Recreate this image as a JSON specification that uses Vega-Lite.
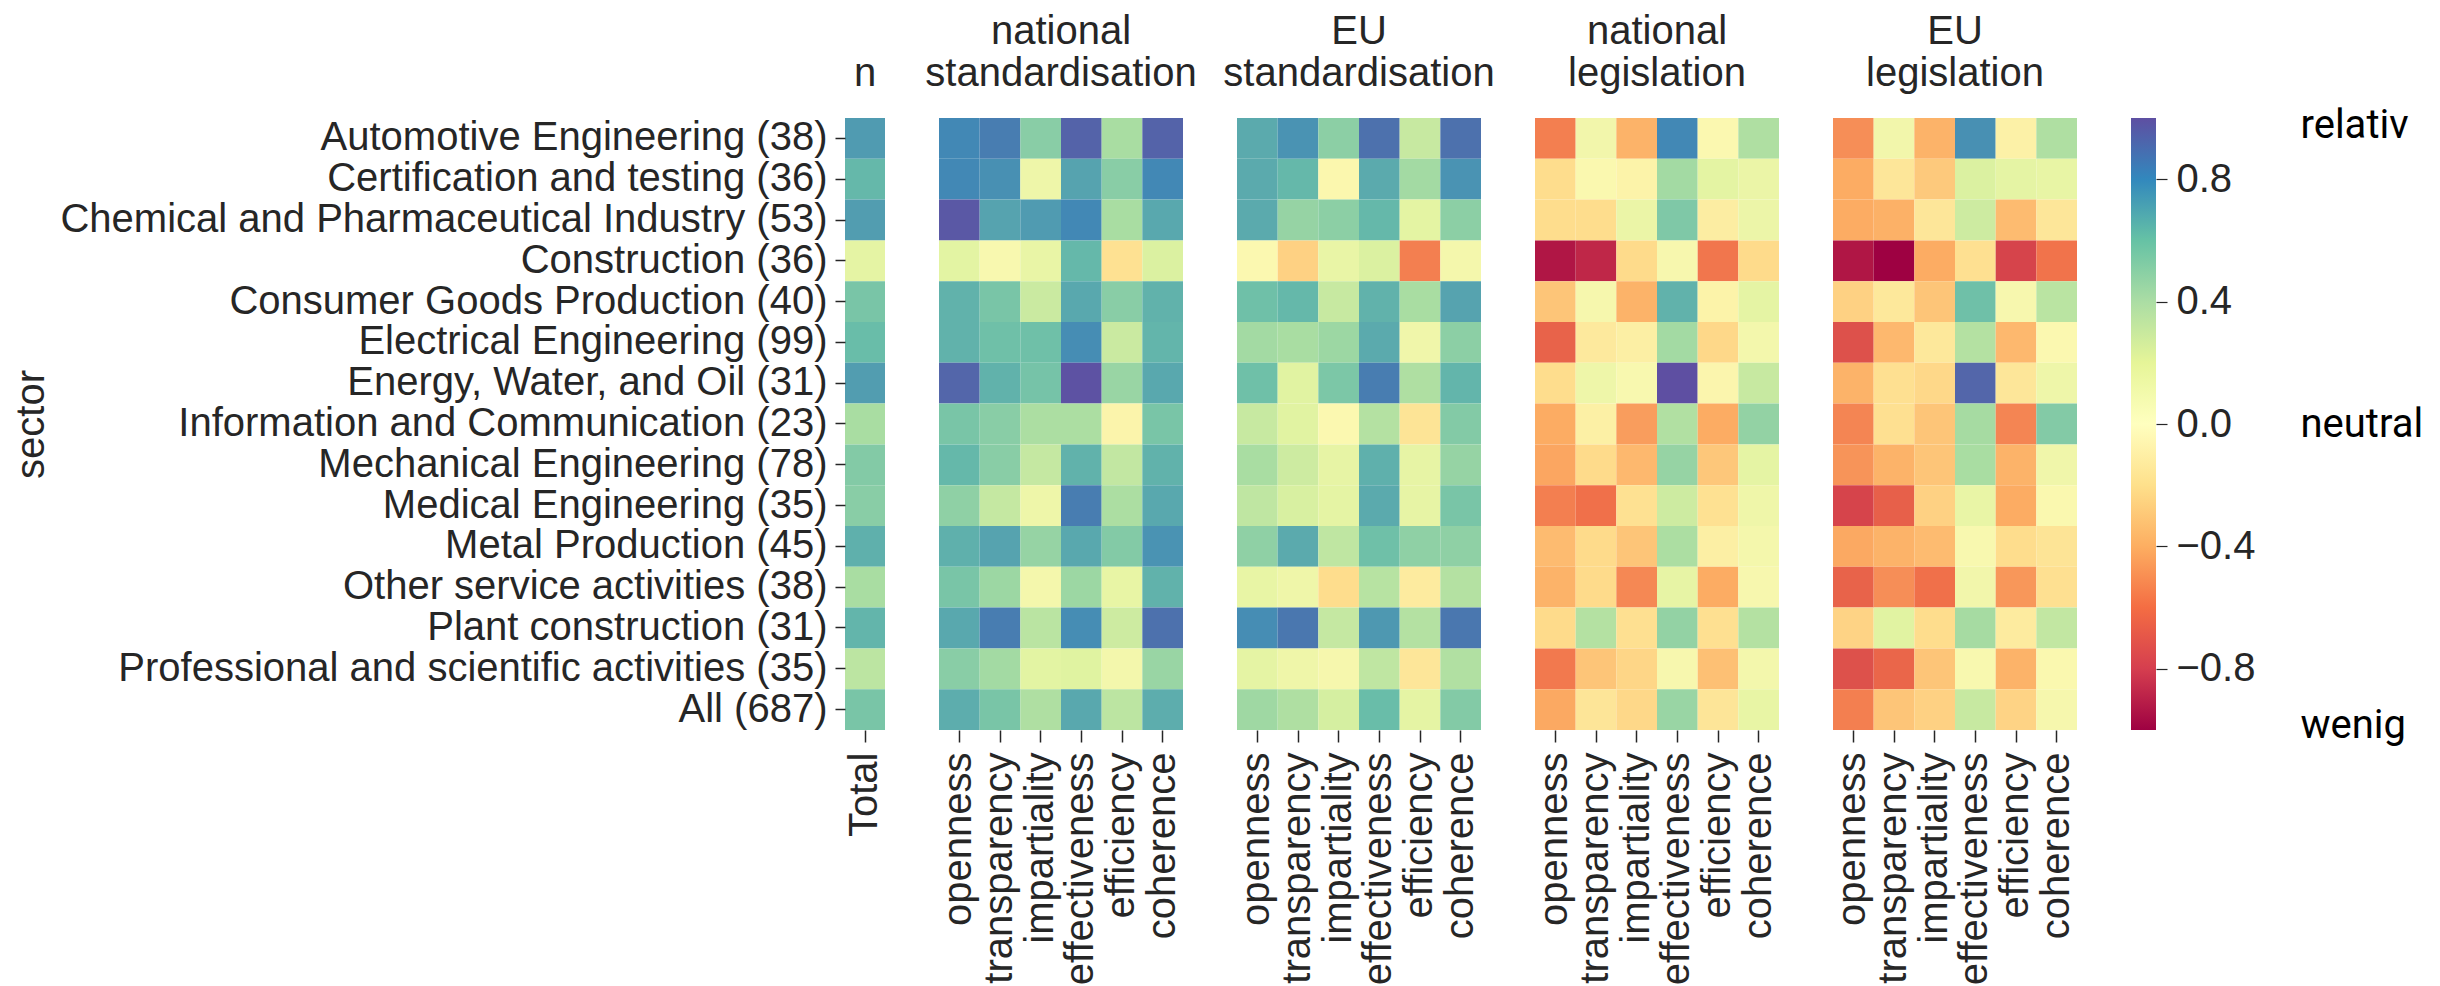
{
"$schema":"https://vega.github.io/schema/vega-lite/v6.json",
"background":"white",
"padding":{"left":11,"top":12,"right":5,"bottom":0},
"bounds":"flush",
"spacing":54,
"config":{"font":"Liberation Sans","view":{"stroke":null},
"axis":{"labelFont":"Liberation Sans","labelFontSize":40,"labelLimit":1000,"labelColor":"#262626","tickColor":"#262626","tickWidth":1.5,"domain":false,"grid":false,"titleFont":"Liberation Sans","titleFontSize":40,"titleFontWeight":"normal","titleColor":"#262626"},
"title":{"font":"Liberation Sans","fontSize":40,"fontWeight":"normal","color":"#262626","offset":24,"lineHeight":42,"anchor":"middle"}},
"data":{"values":[
{"sector":"Automotive Engineering (38)","group":"n","crit":"Total","value":0.73},
{"sector":"Certification and testing (36)","group":"n","crit":"Total","value":0.62},
{"sector":"Chemical and Pharmaceutical Industry (53)","group":"n","crit":"Total","value":0.72},
{"sector":"Construction (36)","group":"n","crit":"Total","value":0.16},
{"sector":"Consumer Goods Production (40)","group":"n","crit":"Total","value":0.55},
{"sector":"Electrical Engineering (99)","group":"n","crit":"Total","value":0.6},
{"sector":"Energy, Water, and Oil (31)","group":"n","crit":"Total","value":0.72},
{"sector":"Information and Communication (23)","group":"n","crit":"Total","value":0.4},
{"sector":"Mechanical Engineering (78)","group":"n","crit":"Total","value":0.52},
{"sector":"Medical Engineering (35)","group":"n","crit":"Total","value":0.5},
{"sector":"Metal Production (45)","group":"n","crit":"Total","value":0.65},
{"sector":"Other service activities (38)","group":"n","crit":"Total","value":0.4},
{"sector":"Plant construction (31)","group":"n","crit":"Total","value":0.63},
{"sector":"Professional and scientific activities (35)","group":"n","crit":"Total","value":0.33},
{"sector":"All (687)","group":"n","crit":"Total","value":0.55},

{"sector":"Automotive Engineering (38)","group":"ns","crit":"openness","value":0.8},
{"sector":"Automotive Engineering (38)","group":"ns","crit":"transparency","value":0.84},
{"sector":"Automotive Engineering (38)","group":"ns","crit":"impartiality","value":0.5},
{"sector":"Automotive Engineering (38)","group":"ns","crit":"effectiveness","value":0.93},
{"sector":"Automotive Engineering (38)","group":"ns","crit":"efficiency","value":0.4},
{"sector":"Automotive Engineering (38)","group":"ns","crit":"coherence","value":0.93},
{"sector":"Certification and testing (36)","group":"ns","crit":"openness","value":0.8},
{"sector":"Certification and testing (36)","group":"ns","crit":"transparency","value":0.77},
{"sector":"Certification and testing (36)","group":"ns","crit":"impartiality","value":0.1},
{"sector":"Certification and testing (36)","group":"ns","crit":"effectiveness","value":0.7},
{"sector":"Certification and testing (36)","group":"ns","crit":"efficiency","value":0.5},
{"sector":"Certification and testing (36)","group":"ns","crit":"coherence","value":0.8},
{"sector":"Chemical and Pharmaceutical Industry (53)","group":"ns","crit":"openness","value":0.97},
{"sector":"Chemical and Pharmaceutical Industry (53)","group":"ns","crit":"transparency","value":0.7},
{"sector":"Chemical and Pharmaceutical Industry (53)","group":"ns","crit":"impartiality","value":0.73},
{"sector":"Chemical and Pharmaceutical Industry (53)","group":"ns","crit":"effectiveness","value":0.8},
{"sector":"Chemical and Pharmaceutical Industry (53)","group":"ns","crit":"efficiency","value":0.4},
{"sector":"Chemical and Pharmaceutical Industry (53)","group":"ns","crit":"coherence","value":0.68},
{"sector":"Construction (36)","group":"ns","crit":"openness","value":0.18},
{"sector":"Construction (36)","group":"ns","crit":"transparency","value":0.02},
{"sector":"Construction (36)","group":"ns","crit":"impartiality","value":0.13},
{"sector":"Construction (36)","group":"ns","crit":"effectiveness","value":0.62},
{"sector":"Construction (36)","group":"ns","crit":"efficiency","value":-0.17},
{"sector":"Construction (36)","group":"ns","crit":"coherence","value":0.22},
{"sector":"Consumer Goods Production (40)","group":"ns","crit":"openness","value":0.64},
{"sector":"Consumer Goods Production (40)","group":"ns","crit":"transparency","value":0.55},
{"sector":"Consumer Goods Production (40)","group":"ns","crit":"impartiality","value":0.28},
{"sector":"Consumer Goods Production (40)","group":"ns","crit":"effectiveness","value":0.68},
{"sector":"Consumer Goods Production (40)","group":"ns","crit":"efficiency","value":0.5},
{"sector":"Consumer Goods Production (40)","group":"ns","crit":"coherence","value":0.64},
{"sector":"Electrical Engineering (99)","group":"ns","crit":"openness","value":0.64},
{"sector":"Electrical Engineering (99)","group":"ns","crit":"transparency","value":0.58},
{"sector":"Electrical Engineering (99)","group":"ns","crit":"impartiality","value":0.58},
{"sector":"Electrical Engineering (99)","group":"ns","crit":"effectiveness","value":0.78},
{"sector":"Electrical Engineering (99)","group":"ns","crit":"efficiency","value":0.28},
{"sector":"Electrical Engineering (99)","group":"ns","crit":"coherence","value":0.63},
{"sector":"Energy, Water, and Oil (31)","group":"ns","crit":"openness","value":0.92},
{"sector":"Energy, Water, and Oil (31)","group":"ns","crit":"transparency","value":0.64},
{"sector":"Energy, Water, and Oil (31)","group":"ns","crit":"impartiality","value":0.56},
{"sector":"Energy, Water, and Oil (31)","group":"ns","crit":"effectiveness","value":0.99},
{"sector":"Energy, Water, and Oil (31)","group":"ns","crit":"efficiency","value":0.45},
{"sector":"Energy, Water, and Oil (31)","group":"ns","crit":"coherence","value":0.68},
{"sector":"Information and Communication (23)","group":"ns","crit":"openness","value":0.55},
{"sector":"Information and Communication (23)","group":"ns","crit":"transparency","value":0.5},
{"sector":"Information and Communication (23)","group":"ns","crit":"impartiality","value":0.39},
{"sector":"Information and Communication (23)","group":"ns","crit":"effectiveness","value":0.39},
{"sector":"Information and Communication (23)","group":"ns","crit":"efficiency","value":-0.03},
{"sector":"Information and Communication (23)","group":"ns","crit":"coherence","value":0.55},
{"sector":"Mechanical Engineering (78)","group":"ns","crit":"openness","value":0.62},
{"sector":"Mechanical Engineering (78)","group":"ns","crit":"transparency","value":0.5},
{"sector":"Mechanical Engineering (78)","group":"ns","crit":"impartiality","value":0.3},
{"sector":"Mechanical Engineering (78)","group":"ns","crit":"effectiveness","value":0.64},
{"sector":"Mechanical Engineering (78)","group":"ns","crit":"efficiency","value":0.31},
{"sector":"Mechanical Engineering (78)","group":"ns","crit":"coherence","value":0.64},
{"sector":"Medical Engineering (35)","group":"ns","crit":"openness","value":0.48},
{"sector":"Medical Engineering (35)","group":"ns","crit":"transparency","value":0.3},
{"sector":"Medical Engineering (35)","group":"ns","crit":"impartiality","value":0.1},
{"sector":"Medical Engineering (35)","group":"ns","crit":"effectiveness","value":0.84},
{"sector":"Medical Engineering (35)","group":"ns","crit":"efficiency","value":0.39},
{"sector":"Medical Engineering (35)","group":"ns","crit":"coherence","value":0.68},
{"sector":"Metal Production (45)","group":"ns","crit":"openness","value":0.65},
{"sector":"Metal Production (45)","group":"ns","crit":"transparency","value":0.7},
{"sector":"Metal Production (45)","group":"ns","crit":"impartiality","value":0.46},
{"sector":"Metal Production (45)","group":"ns","crit":"effectiveness","value":0.68},
{"sector":"Metal Production (45)","group":"ns","crit":"efficiency","value":0.52},
{"sector":"Metal Production (45)","group":"ns","crit":"coherence","value":0.76},
{"sector":"Other service activities (38)","group":"ns","crit":"openness","value":0.55},
{"sector":"Other service activities (38)","group":"ns","crit":"transparency","value":0.44},
{"sector":"Other service activities (38)","group":"ns","crit":"impartiality","value":0.05},
{"sector":"Other service activities (38)","group":"ns","crit":"effectiveness","value":0.44},
{"sector":"Other service activities (38)","group":"ns","crit":"efficiency","value":0.14},
{"sector":"Other service activities (38)","group":"ns","crit":"coherence","value":0.64},
{"sector":"Plant construction (31)","group":"ns","crit":"openness","value":0.68},
{"sector":"Plant construction (31)","group":"ns","crit":"transparency","value":0.84},
{"sector":"Plant construction (31)","group":"ns","crit":"impartiality","value":0.34},
{"sector":"Plant construction (31)","group":"ns","crit":"effectiveness","value":0.78},
{"sector":"Plant construction (31)","group":"ns","crit":"efficiency","value":0.27},
{"sector":"Plant construction (31)","group":"ns","crit":"coherence","value":0.88},
{"sector":"Professional and scientific activities (35)","group":"ns","crit":"openness","value":0.5},
{"sector":"Professional and scientific activities (35)","group":"ns","crit":"transparency","value":0.42},
{"sector":"Professional and scientific activities (35)","group":"ns","crit":"impartiality","value":0.18},
{"sector":"Professional and scientific activities (35)","group":"ns","crit":"effectiveness","value":0.2},
{"sector":"Professional and scientific activities (35)","group":"ns","crit":"efficiency","value":0.06},
{"sector":"Professional and scientific activities (35)","group":"ns","crit":"coherence","value":0.45},
{"sector":"All (687)","group":"ns","crit":"openness","value":0.66},
{"sector":"All (687)","group":"ns","crit":"transparency","value":0.55},
{"sector":"All (687)","group":"ns","crit":"impartiality","value":0.38},
{"sector":"All (687)","group":"ns","crit":"effectiveness","value":0.68},
{"sector":"All (687)","group":"ns","crit":"efficiency","value":0.33},
{"sector":"All (687)","group":"ns","crit":"coherence","value":0.66},

{"sector":"Automotive Engineering (38)","group":"es","crit":"openness","value":0.67},
{"sector":"Automotive Engineering (38)","group":"es","crit":"transparency","value":0.76},
{"sector":"Automotive Engineering (38)","group":"es","crit":"impartiality","value":0.49},
{"sector":"Automotive Engineering (38)","group":"es","crit":"effectiveness","value":0.88},
{"sector":"Automotive Engineering (38)","group":"es","crit":"efficiency","value":0.29},
{"sector":"Automotive Engineering (38)","group":"es","crit":"coherence","value":0.88},
{"sector":"Certification and testing (36)","group":"es","crit":"openness","value":0.67},
{"sector":"Certification and testing (36)","group":"es","crit":"transparency","value":0.62},
{"sector":"Certification and testing (36)","group":"es","crit":"impartiality","value":-0.01},
{"sector":"Certification and testing (36)","group":"es","crit":"effectiveness","value":0.67},
{"sector":"Certification and testing (36)","group":"es","crit":"efficiency","value":0.42},
{"sector":"Certification and testing (36)","group":"es","crit":"coherence","value":0.76},
{"sector":"Chemical and Pharmaceutical Industry (53)","group":"es","crit":"openness","value":0.67},
{"sector":"Chemical and Pharmaceutical Industry (53)","group":"es","crit":"transparency","value":0.46},
{"sector":"Chemical and Pharmaceutical Industry (53)","group":"es","crit":"impartiality","value":0.49},
{"sector":"Chemical and Pharmaceutical Industry (53)","group":"es","crit":"effectiveness","value":0.62},
{"sector":"Chemical and Pharmaceutical Industry (53)","group":"es","crit":"efficiency","value":0.17},
{"sector":"Chemical and Pharmaceutical Industry (53)","group":"es","crit":"coherence","value":0.49},
{"sector":"Construction (36)","group":"es","crit":"openness","value":0.0},
{"sector":"Construction (36)","group":"es","crit":"transparency","value":-0.25},
{"sector":"Construction (36)","group":"es","crit":"impartiality","value":0.13},
{"sector":"Construction (36)","group":"es","crit":"effectiveness","value":0.22},
{"sector":"Construction (36)","group":"es","crit":"efficiency","value":-0.55},
{"sector":"Construction (36)","group":"es","crit":"coherence","value":0.05},
{"sector":"Consumer Goods Production (40)","group":"es","crit":"openness","value":0.58},
{"sector":"Consumer Goods Production (40)","group":"es","crit":"transparency","value":0.62},
{"sector":"Consumer Goods Production (40)","group":"es","crit":"impartiality","value":0.29},
{"sector":"Consumer Goods Production (40)","group":"es","crit":"effectiveness","value":0.64},
{"sector":"Consumer Goods Production (40)","group":"es","crit":"efficiency","value":0.4},
{"sector":"Consumer Goods Production (40)","group":"es","crit":"coherence","value":0.7},
{"sector":"Electrical Engineering (99)","group":"es","crit":"openness","value":0.42},
{"sector":"Electrical Engineering (99)","group":"es","crit":"transparency","value":0.4},
{"sector":"Electrical Engineering (99)","group":"es","crit":"impartiality","value":0.44},
{"sector":"Electrical Engineering (99)","group":"es","crit":"effectiveness","value":0.67},
{"sector":"Electrical Engineering (99)","group":"es","crit":"efficiency","value":0.08},
{"sector":"Electrical Engineering (99)","group":"es","crit":"coherence","value":0.49},
{"sector":"Energy, Water, and Oil (31)","group":"es","crit":"openness","value":0.58},
{"sector":"Energy, Water, and Oil (31)","group":"es","crit":"transparency","value":0.19},
{"sector":"Energy, Water, and Oil (31)","group":"es","crit":"impartiality","value":0.54},
{"sector":"Energy, Water, and Oil (31)","group":"es","crit":"effectiveness","value":0.84},
{"sector":"Energy, Water, and Oil (31)","group":"es","crit":"efficiency","value":0.38},
{"sector":"Energy, Water, and Oil (31)","group":"es","crit":"coherence","value":0.63},
{"sector":"Information and Communication (23)","group":"es","crit":"openness","value":0.29},
{"sector":"Information and Communication (23)","group":"es","crit":"transparency","value":0.19},
{"sector":"Information and Communication (23)","group":"es","crit":"impartiality","value":0.0},
{"sector":"Information and Communication (23)","group":"es","crit":"effectiveness","value":0.36},
{"sector":"Information and Communication (23)","group":"es","crit":"efficiency","value":-0.15},
{"sector":"Information and Communication (23)","group":"es","crit":"coherence","value":0.52},
{"sector":"Mechanical Engineering (78)","group":"es","crit":"openness","value":0.4},
{"sector":"Mechanical Engineering (78)","group":"es","crit":"transparency","value":0.27},
{"sector":"Mechanical Engineering (78)","group":"es","crit":"impartiality","value":0.15},
{"sector":"Mechanical Engineering (78)","group":"es","crit":"effectiveness","value":0.65},
{"sector":"Mechanical Engineering (78)","group":"es","crit":"efficiency","value":0.15},
{"sector":"Mechanical Engineering (78)","group":"es","crit":"coherence","value":0.46},
{"sector":"Medical Engineering (35)","group":"es","crit":"openness","value":0.32},
{"sector":"Medical Engineering (35)","group":"es","crit":"transparency","value":0.23},
{"sector":"Medical Engineering (35)","group":"es","crit":"impartiality","value":0.16},
{"sector":"Medical Engineering (35)","group":"es","crit":"effectiveness","value":0.67},
{"sector":"Medical Engineering (35)","group":"es","crit":"efficiency","value":0.15},
{"sector":"Medical Engineering (35)","group":"es","crit":"coherence","value":0.55},
{"sector":"Metal Production (45)","group":"es","crit":"openness","value":0.48},
{"sector":"Metal Production (45)","group":"es","crit":"transparency","value":0.67},
{"sector":"Metal Production (45)","group":"es","crit":"impartiality","value":0.32},
{"sector":"Metal Production (45)","group":"es","crit":"effectiveness","value":0.58},
{"sector":"Metal Production (45)","group":"es","crit":"efficiency","value":0.48},
{"sector":"Metal Production (45)","group":"es","crit":"coherence","value":0.48},
{"sector":"Other service activities (38)","group":"es","crit":"openness","value":0.14},
{"sector":"Other service activities (38)","group":"es","crit":"transparency","value":0.09},
{"sector":"Other service activities (38)","group":"es","crit":"impartiality","value":-0.2},
{"sector":"Other service activities (38)","group":"es","crit":"effectiveness","value":0.35},
{"sector":"Other service activities (38)","group":"es","crit":"efficiency","value":-0.1},
{"sector":"Other service activities (38)","group":"es","crit":"coherence","value":0.36},
{"sector":"Plant construction (31)","group":"es","crit":"openness","value":0.78},
{"sector":"Plant construction (31)","group":"es","crit":"transparency","value":0.86},
{"sector":"Plant construction (31)","group":"es","crit":"impartiality","value":0.3},
{"sector":"Plant construction (31)","group":"es","crit":"effectiveness","value":0.74},
{"sector":"Plant construction (31)","group":"es","crit":"efficiency","value":0.36},
{"sector":"Plant construction (31)","group":"es","crit":"coherence","value":0.86},
{"sector":"Professional and scientific activities (35)","group":"es","crit":"openness","value":0.16},
{"sector":"Professional and scientific activities (35)","group":"es","crit":"transparency","value":0.09},
{"sector":"Professional and scientific activities (35)","group":"es","crit":"impartiality","value":0.04},
{"sector":"Professional and scientific activities (35)","group":"es","crit":"effectiveness","value":0.32},
{"sector":"Professional and scientific activities (35)","group":"es","crit":"efficiency","value":-0.13},
{"sector":"Professional and scientific activities (35)","group":"es","crit":"coherence","value":0.37},
{"sector":"All (687)","group":"es","crit":"openness","value":0.43},
{"sector":"All (687)","group":"es","crit":"transparency","value":0.38},
{"sector":"All (687)","group":"es","crit":"impartiality","value":0.24},
{"sector":"All (687)","group":"es","crit":"effectiveness","value":0.6},
{"sector":"All (687)","group":"es","crit":"efficiency","value":0.16},
{"sector":"All (687)","group":"es","crit":"coherence","value":0.52},

{"sector":"Automotive Engineering (38)","group":"nl","crit":"openness","value":-0.55},
{"sector":"Automotive Engineering (38)","group":"nl","crit":"transparency","value":0.07},
{"sector":"Automotive Engineering (38)","group":"nl","crit":"impartiality","value":-0.37},
{"sector":"Automotive Engineering (38)","group":"nl","crit":"effectiveness","value":0.8},
{"sector":"Automotive Engineering (38)","group":"nl","crit":"efficiency","value":0.0},
{"sector":"Automotive Engineering (38)","group":"nl","crit":"coherence","value":0.38},
{"sector":"Certification and testing (36)","group":"nl","crit":"openness","value":-0.2},
{"sector":"Certification and testing (36)","group":"nl","crit":"transparency","value":0.01},
{"sector":"Certification and testing (36)","group":"nl","crit":"impartiality","value":-0.04},
{"sector":"Certification and testing (36)","group":"nl","crit":"effectiveness","value":0.42},
{"sector":"Certification and testing (36)","group":"nl","crit":"efficiency","value":0.17},
{"sector":"Certification and testing (36)","group":"nl","crit":"coherence","value":0.12},
{"sector":"Chemical and Pharmaceutical Industry (53)","group":"nl","crit":"openness","value":-0.2},
{"sector":"Chemical and Pharmaceutical Industry (53)","group":"nl","crit":"transparency","value":-0.2},
{"sector":"Chemical and Pharmaceutical Industry (53)","group":"nl","crit":"impartiality","value":0.12},
{"sector":"Chemical and Pharmaceutical Industry (53)","group":"nl","crit":"effectiveness","value":0.53},
{"sector":"Chemical and Pharmaceutical Industry (53)","group":"nl","crit":"efficiency","value":-0.08},
{"sector":"Chemical and Pharmaceutical Industry (53)","group":"nl","crit":"coherence","value":0.11},
{"sector":"Construction (36)","group":"nl","crit":"openness","value":-0.93},
{"sector":"Construction (36)","group":"nl","crit":"transparency","value":-0.87},
{"sector":"Construction (36)","group":"nl","crit":"impartiality","value":-0.21},
{"sector":"Construction (36)","group":"nl","crit":"effectiveness","value":0.03},
{"sector":"Construction (36)","group":"nl","crit":"efficiency","value":-0.58},
{"sector":"Construction (36)","group":"nl","crit":"coherence","value":-0.21},
{"sector":"Consumer Goods Production (40)","group":"nl","crit":"openness","value":-0.3},
{"sector":"Consumer Goods Production (40)","group":"nl","crit":"transparency","value":0.04},
{"sector":"Consumer Goods Production (40)","group":"nl","crit":"impartiality","value":-0.37},
{"sector":"Consumer Goods Production (40)","group":"nl","crit":"effectiveness","value":0.64},
{"sector":"Consumer Goods Production (40)","group":"nl","crit":"efficiency","value":-0.04},
{"sector":"Consumer Goods Production (40)","group":"nl","crit":"coherence","value":0.16},
{"sector":"Electrical Engineering (99)","group":"nl","crit":"openness","value":-0.65},
{"sector":"Electrical Engineering (99)","group":"nl","crit":"transparency","value":-0.11},
{"sector":"Electrical Engineering (99)","group":"nl","crit":"impartiality","value":-0.07},
{"sector":"Electrical Engineering (99)","group":"nl","crit":"effectiveness","value":0.42},
{"sector":"Electrical Engineering (99)","group":"nl","crit":"efficiency","value":-0.22},
{"sector":"Electrical Engineering (99)","group":"nl","crit":"coherence","value":0.06},
{"sector":"Energy, Water, and Oil (31)","group":"nl","crit":"openness","value":-0.2},
{"sector":"Energy, Water, and Oil (31)","group":"nl","crit":"transparency","value":0.1},
{"sector":"Energy, Water, and Oil (31)","group":"nl","crit":"impartiality","value":0.02},
{"sector":"Energy, Water, and Oil (31)","group":"nl","crit":"effectiveness","value":1.0},
{"sector":"Energy, Water, and Oil (31)","group":"nl","crit":"efficiency","value":-0.02},
{"sector":"Energy, Water, and Oil (31)","group":"nl","crit":"coherence","value":0.29},
{"sector":"Information and Communication (23)","group":"nl","crit":"openness","value":-0.4},
{"sector":"Information and Communication (23)","group":"nl","crit":"transparency","value":-0.06},
{"sector":"Information and Communication (23)","group":"nl","crit":"impartiality","value":-0.45},
{"sector":"Information and Communication (23)","group":"nl","crit":"effectiveness","value":0.37},
{"sector":"Information and Communication (23)","group":"nl","crit":"efficiency","value":-0.4},
{"sector":"Information and Communication (23)","group":"nl","crit":"coherence","value":0.47},
{"sector":"Mechanical Engineering (78)","group":"nl","crit":"openness","value":-0.42},
{"sector":"Mechanical Engineering (78)","group":"nl","crit":"transparency","value":-0.21},
{"sector":"Mechanical Engineering (78)","group":"nl","crit":"impartiality","value":-0.35},
{"sector":"Mechanical Engineering (78)","group":"nl","crit":"effectiveness","value":0.46},
{"sector":"Mechanical Engineering (78)","group":"nl","crit":"efficiency","value":-0.29},
{"sector":"Mechanical Engineering (78)","group":"nl","crit":"coherence","value":0.16},
{"sector":"Medical Engineering (35)","group":"nl","crit":"openness","value":-0.55},
{"sector":"Medical Engineering (35)","group":"nl","crit":"transparency","value":-0.6},
{"sector":"Medical Engineering (35)","group":"nl","crit":"impartiality","value":-0.17},
{"sector":"Medical Engineering (35)","group":"nl","crit":"effectiveness","value":0.27},
{"sector":"Medical Engineering (35)","group":"nl","crit":"efficiency","value":-0.17},
{"sector":"Medical Engineering (35)","group":"nl","crit":"coherence","value":0.09},
{"sector":"Metal Production (45)","group":"nl","crit":"openness","value":-0.34},
{"sector":"Metal Production (45)","group":"nl","crit":"transparency","value":-0.21},
{"sector":"Metal Production (45)","group":"nl","crit":"impartiality","value":-0.3},
{"sector":"Metal Production (45)","group":"nl","crit":"effectiveness","value":0.39},
{"sector":"Metal Production (45)","group":"nl","crit":"efficiency","value":-0.07},
{"sector":"Metal Production (45)","group":"nl","crit":"coherence","value":0.05},
{"sector":"Other service activities (38)","group":"nl","crit":"openness","value":-0.37},
{"sector":"Other service activities (38)","group":"nl","crit":"transparency","value":-0.21},
{"sector":"Other service activities (38)","group":"nl","crit":"impartiality","value":-0.52},
{"sector":"Other service activities (38)","group":"nl","crit":"effectiveness","value":0.15},
{"sector":"Other service activities (38)","group":"nl","crit":"efficiency","value":-0.4},
{"sector":"Other service activities (38)","group":"nl","crit":"coherence","value":0.03},
{"sector":"Plant construction (31)","group":"nl","crit":"openness","value":-0.21},
{"sector":"Plant construction (31)","group":"nl","crit":"transparency","value":0.36},
{"sector":"Plant construction (31)","group":"nl","crit":"impartiality","value":-0.18},
{"sector":"Plant construction (31)","group":"nl","crit":"effectiveness","value":0.47},
{"sector":"Plant construction (31)","group":"nl","crit":"efficiency","value":-0.18},
{"sector":"Plant construction (31)","group":"nl","crit":"coherence","value":0.36},
{"sector":"Professional and scientific activities (35)","group":"nl","crit":"openness","value":-0.57},
{"sector":"Professional and scientific activities (35)","group":"nl","crit":"transparency","value":-0.3},
{"sector":"Professional and scientific activities (35)","group":"nl","crit":"impartiality","value":-0.23},
{"sector":"Professional and scientific activities (35)","group":"nl","crit":"effectiveness","value":0.03},
{"sector":"Professional and scientific activities (35)","group":"nl","crit":"efficiency","value":-0.32},
{"sector":"Professional and scientific activities (35)","group":"nl","crit":"coherence","value":0.06},
{"sector":"All (687)","group":"nl","crit":"openness","value":-0.41},
{"sector":"All (687)","group":"nl","crit":"transparency","value":-0.14},
{"sector":"All (687)","group":"nl","crit":"impartiality","value":-0.22},
{"sector":"All (687)","group":"nl","crit":"effectiveness","value":0.45},
{"sector":"All (687)","group":"nl","crit":"efficiency","value":-0.14},
{"sector":"All (687)","group":"nl","crit":"coherence","value":0.14},

{"sector":"Automotive Engineering (38)","group":"el","crit":"openness","value":-0.5},
{"sector":"Automotive Engineering (38)","group":"el","crit":"transparency","value":0.07},
{"sector":"Automotive Engineering (38)","group":"el","crit":"impartiality","value":-0.37},
{"sector":"Automotive Engineering (38)","group":"el","crit":"effectiveness","value":0.77},
{"sector":"Automotive Engineering (38)","group":"el","crit":"efficiency","value":-0.05},
{"sector":"Automotive Engineering (38)","group":"el","crit":"coherence","value":0.38},
{"sector":"Certification and testing (36)","group":"el","crit":"openness","value":-0.4},
{"sector":"Certification and testing (36)","group":"el","crit":"transparency","value":-0.13},
{"sector":"Certification and testing (36)","group":"el","crit":"impartiality","value":-0.28},
{"sector":"Certification and testing (36)","group":"el","crit":"effectiveness","value":0.22},
{"sector":"Certification and testing (36)","group":"el","crit":"efficiency","value":0.16},
{"sector":"Certification and testing (36)","group":"el","crit":"coherence","value":0.14},
{"sector":"Chemical and Pharmaceutical Industry (53)","group":"el","crit":"openness","value":-0.4},
{"sector":"Chemical and Pharmaceutical Industry (53)","group":"el","crit":"transparency","value":-0.38},
{"sector":"Chemical and Pharmaceutical Industry (53)","group":"el","crit":"impartiality","value":-0.13},
{"sector":"Chemical and Pharmaceutical Industry (53)","group":"el","crit":"effectiveness","value":0.27},
{"sector":"Chemical and Pharmaceutical Industry (53)","group":"el","crit":"efficiency","value":-0.34},
{"sector":"Chemical and Pharmaceutical Industry (53)","group":"el","crit":"coherence","value":-0.13},
{"sector":"Construction (36)","group":"el","crit":"openness","value":-0.93},
{"sector":"Construction (36)","group":"el","crit":"transparency","value":-1.0},
{"sector":"Construction (36)","group":"el","crit":"impartiality","value":-0.4},
{"sector":"Construction (36)","group":"el","crit":"effectiveness","value":-0.18},
{"sector":"Construction (36)","group":"el","crit":"efficiency","value":-0.77},
{"sector":"Construction (36)","group":"el","crit":"coherence","value":-0.59},
{"sector":"Consumer Goods Production (40)","group":"el","crit":"openness","value":-0.25},
{"sector":"Consumer Goods Production (40)","group":"el","crit":"transparency","value":-0.12},
{"sector":"Consumer Goods Production (40)","group":"el","crit":"impartiality","value":-0.3},
{"sector":"Consumer Goods Production (40)","group":"el","crit":"effectiveness","value":0.58},
{"sector":"Consumer Goods Production (40)","group":"el","crit":"efficiency","value":0.03},
{"sector":"Consumer Goods Production (40)","group":"el","crit":"coherence","value":0.34},
{"sector":"Electrical Engineering (99)","group":"el","crit":"openness","value":-0.72},
{"sector":"Electrical Engineering (99)","group":"el","crit":"transparency","value":-0.35},
{"sector":"Electrical Engineering (99)","group":"el","crit":"impartiality","value":-0.12},
{"sector":"Electrical Engineering (99)","group":"el","crit":"effectiveness","value":0.36},
{"sector":"Electrical Engineering (99)","group":"el","crit":"efficiency","value":-0.35},
{"sector":"Electrical Engineering (99)","group":"el","crit":"coherence","value":0.0},
{"sector":"Energy, Water, and Oil (31)","group":"el","crit":"openness","value":-0.37},
{"sector":"Energy, Water, and Oil (31)","group":"el","crit":"transparency","value":-0.18},
{"sector":"Energy, Water, and Oil (31)","group":"el","crit":"impartiality","value":-0.22},
{"sector":"Energy, Water, and Oil (31)","group":"el","crit":"effectiveness","value":0.92},
{"sector":"Energy, Water, and Oil (31)","group":"el","crit":"efficiency","value":-0.13},
{"sector":"Energy, Water, and Oil (31)","group":"el","crit":"coherence","value":0.1},
{"sector":"Information and Communication (23)","group":"el","crit":"openness","value":-0.53},
{"sector":"Information and Communication (23)","group":"el","crit":"transparency","value":-0.18},
{"sector":"Information and Communication (23)","group":"el","crit":"impartiality","value":-0.3},
{"sector":"Information and Communication (23)","group":"el","crit":"effectiveness","value":0.41},
{"sector":"Information and Communication (23)","group":"el","crit":"efficiency","value":-0.53},
{"sector":"Information and Communication (23)","group":"el","crit":"coherence","value":0.52},
{"sector":"Mechanical Engineering (78)","group":"el","crit":"openness","value":-0.48},
{"sector":"Mechanical Engineering (78)","group":"el","crit":"transparency","value":-0.37},
{"sector":"Mechanical Engineering (78)","group":"el","crit":"impartiality","value":-0.3},
{"sector":"Mechanical Engineering (78)","group":"el","crit":"effectiveness","value":0.4},
{"sector":"Mechanical Engineering (78)","group":"el","crit":"efficiency","value":-0.37},
{"sector":"Mechanical Engineering (78)","group":"el","crit":"coherence","value":0.08},
{"sector":"Medical Engineering (35)","group":"el","crit":"openness","value":-0.77},
{"sector":"Medical Engineering (35)","group":"el","crit":"transparency","value":-0.66},
{"sector":"Medical Engineering (35)","group":"el","crit":"impartiality","value":-0.25},
{"sector":"Medical Engineering (35)","group":"el","crit":"effectiveness","value":0.13},
{"sector":"Medical Engineering (35)","group":"el","crit":"efficiency","value":-0.4},
{"sector":"Medical Engineering (35)","group":"el","crit":"coherence","value":0.01},
{"sector":"Metal Production (45)","group":"el","crit":"openness","value":-0.41},
{"sector":"Metal Production (45)","group":"el","crit":"transparency","value":-0.37},
{"sector":"Metal Production (45)","group":"el","crit":"impartiality","value":-0.34},
{"sector":"Metal Production (45)","group":"el","crit":"effectiveness","value":0.02},
{"sector":"Metal Production (45)","group":"el","crit":"efficiency","value":-0.2},
{"sector":"Metal Production (45)","group":"el","crit":"coherence","value":-0.15},
{"sector":"Other service activities (38)","group":"el","crit":"openness","value":-0.65},
{"sector":"Other service activities (38)","group":"el","crit":"transparency","value":-0.5},
{"sector":"Other service activities (38)","group":"el","crit":"impartiality","value":-0.6},
{"sector":"Other service activities (38)","group":"el","crit":"effectiveness","value":0.07},
{"sector":"Other service activities (38)","group":"el","crit":"efficiency","value":-0.47},
{"sector":"Other service activities (38)","group":"el","crit":"coherence","value":-0.18},
{"sector":"Plant construction (31)","group":"el","crit":"openness","value":-0.24},
{"sector":"Plant construction (31)","group":"el","crit":"transparency","value":0.19},
{"sector":"Plant construction (31)","group":"el","crit":"impartiality","value":-0.2},
{"sector":"Plant construction (31)","group":"el","crit":"effectiveness","value":0.41},
{"sector":"Plant construction (31)","group":"el","crit":"efficiency","value":-0.1},
{"sector":"Plant construction (31)","group":"el","crit":"coherence","value":0.31},
{"sector":"Professional and scientific activities (35)","group":"el","crit":"openness","value":-0.72},
{"sector":"Professional and scientific activities (35)","group":"el","crit":"transparency","value":-0.64},
{"sector":"Professional and scientific activities (35)","group":"el","crit":"impartiality","value":-0.3},
{"sector":"Professional and scientific activities (35)","group":"el","crit":"effectiveness","value":0.02},
{"sector":"Professional and scientific activities (35)","group":"el","crit":"efficiency","value":-0.37},
{"sector":"Professional and scientific activities (35)","group":"el","crit":"coherence","value":0.01},
{"sector":"All (687)","group":"el","crit":"openness","value":-0.55},
{"sector":"All (687)","group":"el","crit":"transparency","value":-0.3},
{"sector":"All (687)","group":"el","crit":"impartiality","value":-0.25},
{"sector":"All (687)","group":"el","crit":"effectiveness","value":0.29},
{"sector":"All (687)","group":"el","crit":"efficiency","value":-0.24},
{"sector":"All (687)","group":"el","crit":"coherence","value":0.04}
]},
"hconcat":[
{"width":40,"height":612,"title":{"text":"n"},
"transform":[{"filter":"datum.group == 'n'"}],
"mark":{"type":"rect","strokeWidth":0},
"encoding":{
"x":{"field":"crit","type":"nominal","title":null,"scale":{"paddingInner":0,"paddingOuter":0},"axis":{"labelAngle":-90,"tickSize":12,"labelPadding":10}},
"y":{"field":"sector","type":"nominal","sort":["Automotive Engineering (38)","Certification and testing (36)","Chemical and Pharmaceutical Industry (53)","Construction (36)","Consumer Goods Production (40)","Electrical Engineering (99)","Energy, Water, and Oil (31)","Information and Communication (23)","Mechanical Engineering (78)","Medical Engineering (35)","Metal Production (45)","Other service activities (38)","Plant construction (31)","Professional and scientific activities (35)","All (687)"],"scale":{"paddingInner":0,"paddingOuter":0},"axis":{"title":"sector","tickSize":10,"labelPadding":8,"titleX":-814,"titleBaseline":"middle","titleAngle":270}},
"color":{"field":"value","type":"quantitative","scale":{"scheme":"spectral","domain":[-1,1]},"legend":null}}},
{"width":244,"height":612,"title":{"text":["national","standardisation"]},
"transform":[{"filter":"datum.group == 'ns'"}],
"mark":{"type":"rect","strokeWidth":0},
"encoding":{
"x":{"field":"crit","type":"nominal","title":null,"sort":["openness","transparency","impartiality","effectiveness","efficiency","coherence"],"scale":{"paddingInner":0,"paddingOuter":0},"axis":{"labelAngle":-90,"tickSize":12,"labelPadding":10}},
"y":{"field":"sector","type":"nominal","sort":["Automotive Engineering (38)","Certification and testing (36)","Chemical and Pharmaceutical Industry (53)","Construction (36)","Consumer Goods Production (40)","Electrical Engineering (99)","Energy, Water, and Oil (31)","Information and Communication (23)","Mechanical Engineering (78)","Medical Engineering (35)","Metal Production (45)","Other service activities (38)","Plant construction (31)","Professional and scientific activities (35)","All (687)"],"scale":{"paddingInner":0,"paddingOuter":0},"axis":null},
"color":{"field":"value","type":"quantitative","scale":{"scheme":"spectral","domain":[-1,1]},"legend":null}}},
{"width":244,"height":612,"title":{"text":["EU","standardisation"]},
"transform":[{"filter":"datum.group == 'es'"}],
"mark":{"type":"rect","strokeWidth":0},
"encoding":{
"x":{"field":"crit","type":"nominal","title":null,"sort":["openness","transparency","impartiality","effectiveness","efficiency","coherence"],"scale":{"paddingInner":0,"paddingOuter":0},"axis":{"labelAngle":-90,"tickSize":12,"labelPadding":10}},
"y":{"field":"sector","type":"nominal","sort":["Automotive Engineering (38)","Certification and testing (36)","Chemical and Pharmaceutical Industry (53)","Construction (36)","Consumer Goods Production (40)","Electrical Engineering (99)","Energy, Water, and Oil (31)","Information and Communication (23)","Mechanical Engineering (78)","Medical Engineering (35)","Metal Production (45)","Other service activities (38)","Plant construction (31)","Professional and scientific activities (35)","All (687)"],"scale":{"paddingInner":0,"paddingOuter":0},"axis":null},
"color":{"field":"value","type":"quantitative","scale":{"scheme":"spectral","domain":[-1,1]},"legend":null}}},
{"width":244,"height":612,"title":{"text":["national","legislation"]},
"transform":[{"filter":"datum.group == 'nl'"}],
"mark":{"type":"rect","strokeWidth":0},
"encoding":{
"x":{"field":"crit","type":"nominal","title":null,"sort":["openness","transparency","impartiality","effectiveness","efficiency","coherence"],"scale":{"paddingInner":0,"paddingOuter":0},"axis":{"labelAngle":-90,"tickSize":12,"labelPadding":10}},
"y":{"field":"sector","type":"nominal","sort":["Automotive Engineering (38)","Certification and testing (36)","Chemical and Pharmaceutical Industry (53)","Construction (36)","Consumer Goods Production (40)","Electrical Engineering (99)","Energy, Water, and Oil (31)","Information and Communication (23)","Mechanical Engineering (78)","Medical Engineering (35)","Metal Production (45)","Other service activities (38)","Plant construction (31)","Professional and scientific activities (35)","All (687)"],"scale":{"paddingInner":0,"paddingOuter":0},"axis":null},
"color":{"field":"value","type":"quantitative","scale":{"scheme":"spectral","domain":[-1,1]},"legend":null}}},
{"width":244,"height":612,"title":{"text":["EU","legislation"]},
"transform":[{"filter":"datum.group == 'el'"}],
"mark":{"type":"rect","strokeWidth":0},
"encoding":{
"x":{"field":"crit","type":"nominal","title":null,"sort":["openness","transparency","impartiality","effectiveness","efficiency","coherence"],"scale":{"paddingInner":0,"paddingOuter":0},"axis":{"labelAngle":-90,"tickSize":12,"labelPadding":10}},
"y":{"field":"sector","type":"nominal","sort":["Automotive Engineering (38)","Certification and testing (36)","Chemical and Pharmaceutical Industry (53)","Construction (36)","Consumer Goods Production (40)","Electrical Engineering (99)","Energy, Water, and Oil (31)","Information and Communication (23)","Mechanical Engineering (78)","Medical Engineering (35)","Metal Production (45)","Other service activities (38)","Plant construction (31)","Professional and scientific activities (35)","All (687)"],"scale":{"paddingInner":0,"paddingOuter":0},"axis":null},
"color":{"field":"value","type":"quantitative","scale":{"scheme":"spectral","domain":[-1,1]},"legend":null}}},
{"width":25,"height":612,
"data":{"values":[{"lo":-1,"hi":1}]},
"mark":{"type":"rect","strokeWidth":0,"fill":{"gradient":"linear","x1":0,"y1":1,"x2":0,"y2":0,"stops":[
{"offset":0,"color":"#9e0142"},{"offset":0.1,"color":"#d53e4f"},{"offset":0.2,"color":"#f46d43"},{"offset":0.3,"color":"#fdae61"},{"offset":0.4,"color":"#fee08b"},{"offset":0.5,"color":"#ffffbf"},{"offset":0.6,"color":"#e6f598"},{"offset":0.7,"color":"#abdda4"},{"offset":0.8,"color":"#66c2a5"},{"offset":0.9,"color":"#3288bd"},{"offset":1,"color":"#5e4fa2"}]}},
"encoding":{"y":{"field":"lo","type":"quantitative","scale":{"domain":[-1,1],"nice":false,"zero":false},"axis":{"orient":"right","title":null,"values":[-0.8,-0.4,0,0.4,0.8],"format":".1f","tickSize":11,"tickWidth":1.2,"labelPadding":9}},"y2":{"field":"hi"}}},
{"width":90,"height":612,
"data":{"values":[{"lo":-1,"hi":1}]},
"mark":{"type":"rect","opacity":0},
"encoding":{"y":{"field":"lo","type":"quantitative","scale":{"domain":[-1,1],"nice":false,"zero":false},"axis":{"orient":"right","title":null,"values":[-1,0,1],"ticks":false,"labelFlush":false,"labelPadding":0,"labelFont":"Roboto","labelColor":"black","labelFontSize":40,"labelOffset":{"condition":{"test":"datum.value == 0","value":0},"value":7},"labelBaseline":{"condition":{"test":"datum.value < -0.5","value":"alphabetic"},"value":"middle"},"labelExpr":"datum.value > 0.5 ? 'relativ' : (datum.value < -0.5 ? 'wenig' : 'neutral')"}},"y2":{"field":"hi"}}}
]
}
